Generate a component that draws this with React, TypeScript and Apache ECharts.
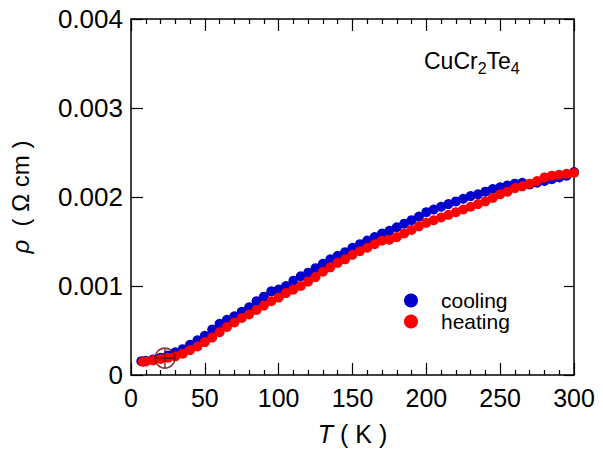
import React, { useEffect, useRef } from "react";
import * as echarts from "echarts";

// Temperature (K) and resistivity (Ω cm)
const tempsCooling = [7, 10, 15, 20, 25, 30, 35, 40, 45, 50, 55, 60, 65, 70, 75, 80, 85, 90, 95, 100, 105, 110, 115, 120, 125, 130, 135, 140, 145, 150, 155, 160, 165, 170, 175, 180, 185, 190, 195, 200, 205, 210, 215, 220, 225, 230, 235, 240, 245, 250, 255, 260, 265, 270, 275, 280, 285, 290, 295, 300];
const rhoCooling = [0.000155, 0.00016, 0.000175, 0.000195, 0.00022, 0.000255, 0.00029, 0.00034, 0.00039, 0.00044, 0.00051, 0.000575, 0.00062, 0.00066, 0.00071, 0.00076, 0.00083, 0.00088, 0.00094, 0.00096, 0.001, 0.00106, 0.00111, 0.00115, 0.0012, 0.00125, 0.0013, 0.00134, 0.00138, 0.00143, 0.00147, 0.00151, 0.00155, 0.00159, 0.00162, 0.00166, 0.0017, 0.00174, 0.00178, 0.00183, 0.00186, 0.00189, 0.00192, 0.00195, 0.00198, 0.00201, 0.00203, 0.00206, 0.00209, 0.00211, 0.00213, 0.00215, 0.00216, 0.00214, 0.00216, 0.00218, 0.0022, 0.00222, 0.00224, 0.00228];

const tempsHeating = [8, 10, 15, 20, 25, 30, 35, 40, 45, 50, 55, 60, 65, 70, 75, 80, 85, 90, 95, 100, 105, 110, 115, 120, 125, 130, 135, 140, 145, 150, 155, 160, 165, 170, 175, 180, 185, 190, 195, 200, 205, 210, 215, 220, 225, 230, 235, 240, 245, 250, 255, 260, 265, 270, 275, 280, 285, 290, 295, 300];
const rhoHeating = [0.00015, 0.000152, 0.000165, 0.00018, 0.000195, 0.00021, 0.00024, 0.00028, 0.00032, 0.00037, 0.00042, 0.00048, 0.00054, 0.00059, 0.00064, 0.00068, 0.00073, 0.00078, 0.00083, 0.00087, 0.00092, 0.00096, 0.001, 0.00105, 0.0011, 0.00116, 0.00121, 0.00126, 0.0013, 0.00135, 0.00139, 0.00143, 0.00147, 0.00151, 0.00152, 0.00155, 0.00159, 0.00163, 0.00167, 0.00171, 0.00174, 0.00177, 0.0018, 0.00183, 0.00186, 0.00189, 0.00192, 0.00195, 0.00199, 0.00203, 0.00206, 0.0021, 0.00212, 0.00215, 0.00218, 0.00222, 0.00224, 0.00225, 0.00226, 0.00227];

const markerPoint = [[23, 0.00019]];

const xTicks = { min: 0, max: 300, interval: 50 };
const yTicks = { min: 0, max: 0.004, interval: 0.001 };

const FONT = "'Liberation Sans', Arial, sans-serif";

export default function App() {
  const ref = useRef<HTMLDivElement>(null);
  useEffect(() => {
    if (!ref.current) return;
    const chart = echarts.init(ref.current, null, { renderer: "svg" });
    const axisLine = { show: true, onZero: false, lineStyle: { color: "#000", width: 1.5 } };
    const tickStyle = { color: "#000", width: 1.2 };
    const option: any = {
      animation: false,
      backgroundColor: "#fff",
      textStyle: { fontFamily: FONT },
      grid: { left: 131, right: 29, top: 19, bottom: 75, containLabel: false, outerBoundsMode: "none" },
      title: {
        text: "{n|CuCr}{s|2}{n|Te}{s|4}",
        left: 419,
        top: 43,
        textStyle: {
          fontWeight: "normal",
          rich: {
            n: { fontSize: 23, fontFamily: FONT, color: "#000", fontWeight: "normal", lineHeight: 25 },
            s: { fontSize: 16, fontFamily: FONT, color: "#000", fontWeight: "normal", lineHeight: 25, padding: [16, 0, 0, 0] },
          },
        },
      },
      legend: {
        data: ["cooling", "heating"],
        orient: "vertical",
        left: 399,
        top: 285,
        itemWidth: 14,
        itemHeight: 14,
        itemGap: 0,
        icon: "circle",
        textStyle: { fontSize: 21, fontFamily: FONT, color: "#000", padding: [0, 0, 0, 18] },
      },
      xAxis: [
        {
          type: "value",
          position: "bottom",
          min: xTicks.min,
          max: xTicks.max,
          interval: xTicks.interval,
          axisLine,
          axisTick: { show: true, inside: true, length: 12, lineStyle: tickStyle },
          minorTick: { show: true, splitNumber: 5, length: 5, lineStyle: tickStyle },
          splitLine: { show: false },
          axisLabel: { fontSize: 25, color: "#000", margin: 10, fontFamily: FONT },
          name: "{i|T} ( K )",
          nameLocation: "middle",
          nameGap: 46,
          nameTextStyle: {
            fontSize: 25,
            lineHeight: 26,
            color: "#000",
            fontFamily: FONT,
            rich: { i: { fontSize: 25, lineHeight: 26, fontStyle: "italic", fontFamily: FONT, color: "#000" } },
          },
        },
        {
          type: "value",
          position: "top",
          min: xTicks.min,
          max: xTicks.max,
          interval: xTicks.interval,
          axisLine,
          axisTick: { show: true, inside: true, length: 12, lineStyle: tickStyle },
          minorTick: { show: true, splitNumber: 5, length: 5, lineStyle: tickStyle },
          splitLine: { show: false },
          axisLabel: { show: false },
        },
      ],
      yAxis: [
        {
          type: "value",
          position: "left",
          min: yTicks.min,
          max: yTicks.max,
          interval: yTicks.interval,
          axisLine,
          axisTick: { show: true, inside: true, length: 12, lineStyle: tickStyle },
          splitLine: { show: false },
          axisLabel: {
            fontSize: 26,
            color: "#000",
            margin: 8,
            fontFamily: FONT,
            formatter: (v: number) => (v === 0 ? "0" : v.toFixed(3)),
          },
          name: "{i|ρ}  ( Ω cm )",
          nameLocation: "middle",
          nameGap: 99,
          nameRotate: 90,
          nameTextStyle: {
            fontSize: 24,
            color: "#000",
            fontFamily: FONT,
            rich: { i: { fontSize: 24, fontStyle: "italic", fontFamily: FONT, color: "#000" } },
          },
        },
        {
          type: "value",
          position: "right",
          min: yTicks.min,
          max: yTicks.max,
          interval: yTicks.interval,
          axisLine,
          axisTick: { show: true, inside: true, length: 10, lineStyle: tickStyle },
          splitLine: { show: false },
          axisLabel: { show: false },
        },
      ],
      series: [
        {
          name: "cooling",
          type: "scatter",
          xAxisIndex: 0,
          yAxisIndex: 0,
          symbol: "circle",
          symbolSize: 10,
          itemStyle: { color: "#0000cc", opacity: 1 },
          data: tempsCooling.map((t, i) => [t, rhoCooling[i]]),
        },
        {
          name: "heating",
          type: "scatter",
          xAxisIndex: 0,
          yAxisIndex: 0,
          symbol: "circle",
          symbolSize: 10,
          itemStyle: { color: "#ff0000", opacity: 1 },
          data: tempsHeating.map((t, i) => [t, rhoHeating[i]]),
        },
        {
          name: "marker",
          type: "scatter",
          xAxisIndex: 0,
          yAxisIndex: 0,
          symbol: "path://M10,0 A10,10 0 1,1 10,20 A10,10 0 1,1 10,0 Z M0,10 L20,10 M10,0 L10,20",
          symbolSize: 20,
          itemStyle: { color: "none", borderColor: "#6e0c0c", borderWidth: 1.6 },
          data: markerPoint,
          z: 5,
        },
      ],
    };
    chart.setOption(option);
    return () => chart.dispose();
  }, []);
  return <div ref={ref} style={{ width: 603, height: 450, position: "absolute", left: 0, top: 0 }} />;
}
